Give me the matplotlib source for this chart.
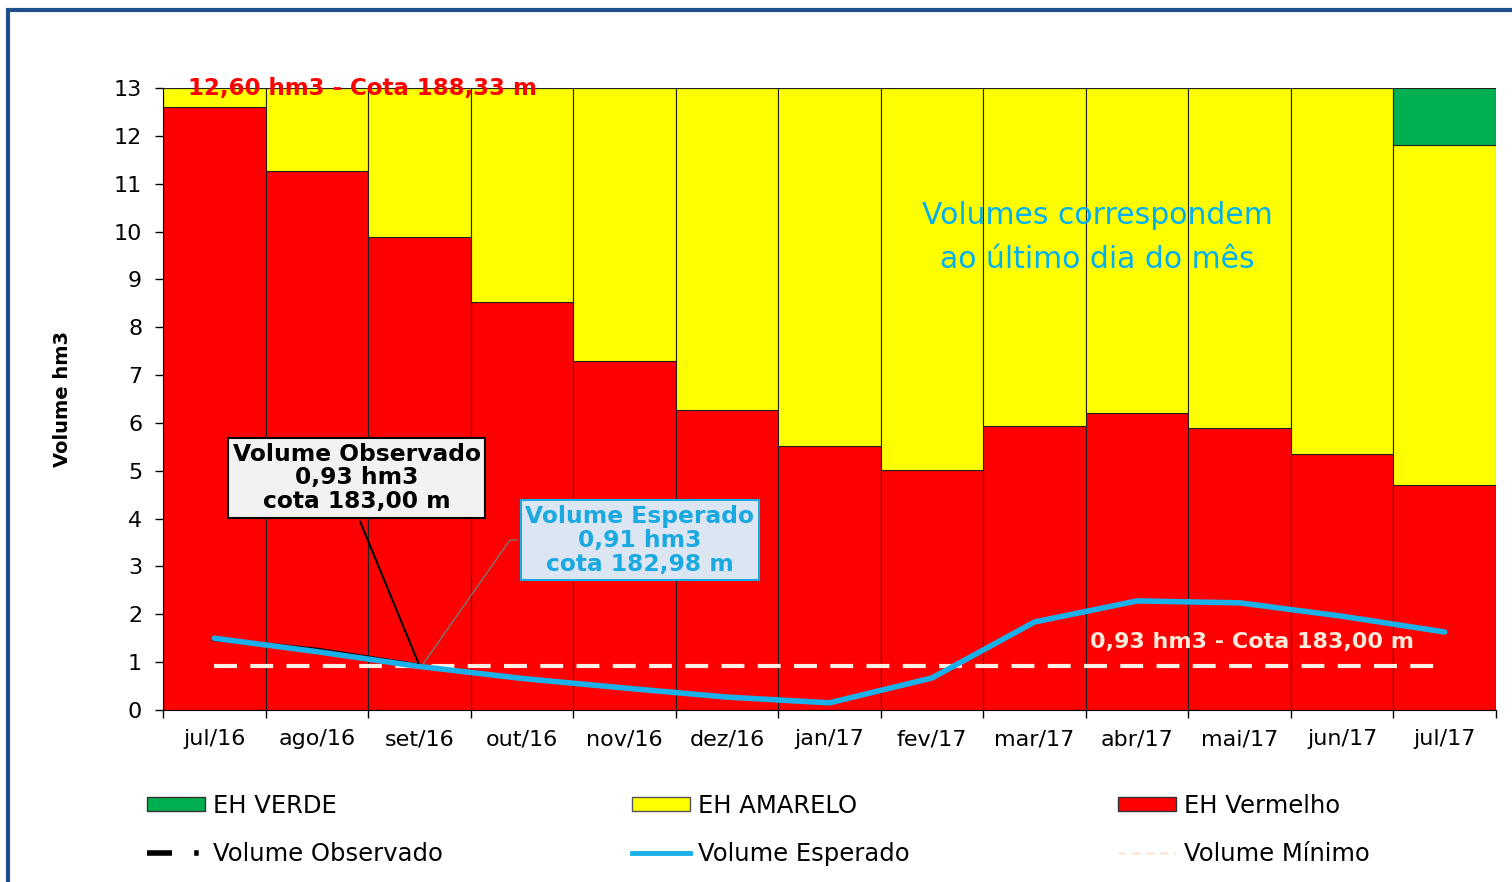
import matplotlib.pyplot as plt
from matplotlib.patches import Rectangle, Patch
from matplotlib.lines import Line2D
import numpy as np

plt.rcParams['font.family'] = ['DejaVu Sans']

meses = ['jul/16', 'ago/16', 'set/16', 'out/16', 'nov/16', 'dez/16', 'jan/17',
         'fev/17', 'mar/17', 'abr/17', 'mai/17', 'jun/17', 'jul/17']
vermelho = [12.60, 11.26, 9.88, 8.53, 7.29, 6.27, 5.52, 5.02, 5.94, 6.21, 5.89, 5.35, 4.70]
topo_amarelo = [13, 13, 13, 13, 13, 13, 13, 13, 13, 13, 13, 13, 11.81]
topo_verde = [13, 13, 13, 13, 13, 13, 13, 13, 13, 13, 13, 13, 13]
esperado = [1.50, 1.22, 0.91, 0.66, 0.46, 0.27, 0.15, 0.67, 1.84, 2.28, 2.24, 1.96, 1.63]
observado = [1.48, 1.26, 0.93]
minimo = 0.93

x = np.arange(len(meses))
amarelo = np.array(topo_amarelo) - np.array(vermelho)
verde = np.array(topo_verde) - np.array(topo_amarelo)

fig = plt.figure(figsize=(15.12, 8.82), dpi=100)
ax = fig.add_axes([0.1078, 0.195, 0.8816, 0.7052])

ax.bar(x, vermelho, width=1.0, color='#ff0000', edgecolor='#222222', linewidth=0.8)
ax.bar(x, amarelo, bottom=vermelho, width=1.0, color='#ffff00', edgecolor='#222222', linewidth=0.8)
ax.bar(x, verde, bottom=topo_amarelo, width=1.0, color='#00b050', edgecolor='#222222', linewidth=0.8)

ax.plot(x, [minimo] * len(x), color='#fdeee4', lw=3, dashes=(5.5, 3.2), zorder=3)
ax.plot(x[:len(observado)], observado, color='black', lw=3, zorder=4)
ax.plot(x, esperado, color='#1ab0ea', lw=4, zorder=5, solid_capstyle='round')

ax.set_xlim(-0.5, 12.5)
ax.set_ylim(0, 13)
ax.set_yticks(range(0, 14))
ax.set_xticks(x)
ax.set_xticklabels(meses)
ax.set_xticks(np.arange(-0.5, 13.0, 1.0), minor=True)
ax.tick_params(axis='x', which='major', length=0, labelsize=16, pad=14)
ax.tick_params(axis='x', which='minor', length=6, width=1)
ax.tick_params(axis='y', length=6, width=1, labelsize=16, pad=9)
for s in ['top', 'right']:
    ax.spines[s].set_visible(False)
ax.set_ylabel('Volume hm3', fontsize=14, fontweight='bold')
ax.yaxis.set_label_coords(-0.068, 0.5)

ax.text(-0.26, 13, '12,60 hm3 - Cota 188,33 m', color='#ff0000', fontsize=16.5,
        fontweight='bold', va='center', ha='left', zorder=6)
ax.text(8.54, 1.42, '0,93 hm3 - Cota 183,00 m', color='#fde9d9', fontsize=16,
        fontweight='bold', va='center', ha='left', zorder=6)
ax.text(8.61, 9.87, 'Volumes correspondem\nao último dia do mês', color='#00b0f0',
        fontsize=21.5, ha='center', va='center', linespacing=1.65, zorder=6)

ax.annotate('Volume Observado\n0,93 hm3\ncota 183,00 m', xy=(2, 0.93), xytext=(1.39, 4.85),
            ha='center', va='center', fontsize=16.8, fontweight='bold', color='black',
            linespacing=1.05, zorder=7,
            bbox=dict(boxstyle='square,pad=0.2', fc='#f2f2f2', ec='black', lw=1.5),
            arrowprops=dict(arrowstyle='-', color='black', lw=1.5, relpos=(0.5, 0)))
ax.annotate('Volume Esperado\n0,91 hm3\ncota 182,98 m', xy=(2.02, 0.91), xytext=(4.15, 3.55),
            ha='center', va='center', fontsize=16.8, fontweight='bold', color='#1aa9e0',
            linespacing=1.05, zorder=7,
            bbox=dict(boxstyle='square,pad=0.2', fc='#dce6f2', ec='#1aa9e0', lw=1.5),
            arrowprops=dict(arrowstyle='-', color='#777777', lw=1, relpos=(0, 0.5),
                            connectionstyle='angle,angleA=0,angleB=55,rad=0'))

# moldura azul
fig.patches.append(Rectangle((8 / 1512, -0.05), 1.2, 1.05 - 10 / 882, transform=fig.transFigure,
                             fill=False, ec='#1f4e8c', lw=3))

# legenda em tres colunas
h_verde = Patch(fc='#00b050', ec='#333333')
h_amar = Patch(fc='#ffff00', ec='#555555')
h_verm = Patch(fc='#ff0000', ec='#333333')
h_obs = Line2D([], [], color='black', lw=4, dashes=(4.5, 4, 0.8, 10))
h_esp = Line2D([], [], color='#1ab0ea', lw=3.5)
h_min = Line2D([], [], color='#fde9d9', lw=2, dashes=(3, 2))
cols = [([h_verde, h_obs], ['EH VERDE', 'Volume Observado'], 147),
        ([h_amar, h_esp], ['EH AMARELO', 'Volume Esperado'], 632),
        ([h_verm, h_min], ['EH Vermelho', 'Volume Mínimo'], 1118)]
for hs, ls, px in cols:
    fig.legend(hs, ls, loc='upper left', bbox_to_anchor=(px / 1512, 1 - 794 / 882),
               frameon=False, fontsize=17.5, handlelength=2.4, handleheight=0.5,
               handletextpad=0.3, labelspacing=0.97, borderpad=0, borderaxespad=0)

fig.savefig('out.png', dpi=100)
